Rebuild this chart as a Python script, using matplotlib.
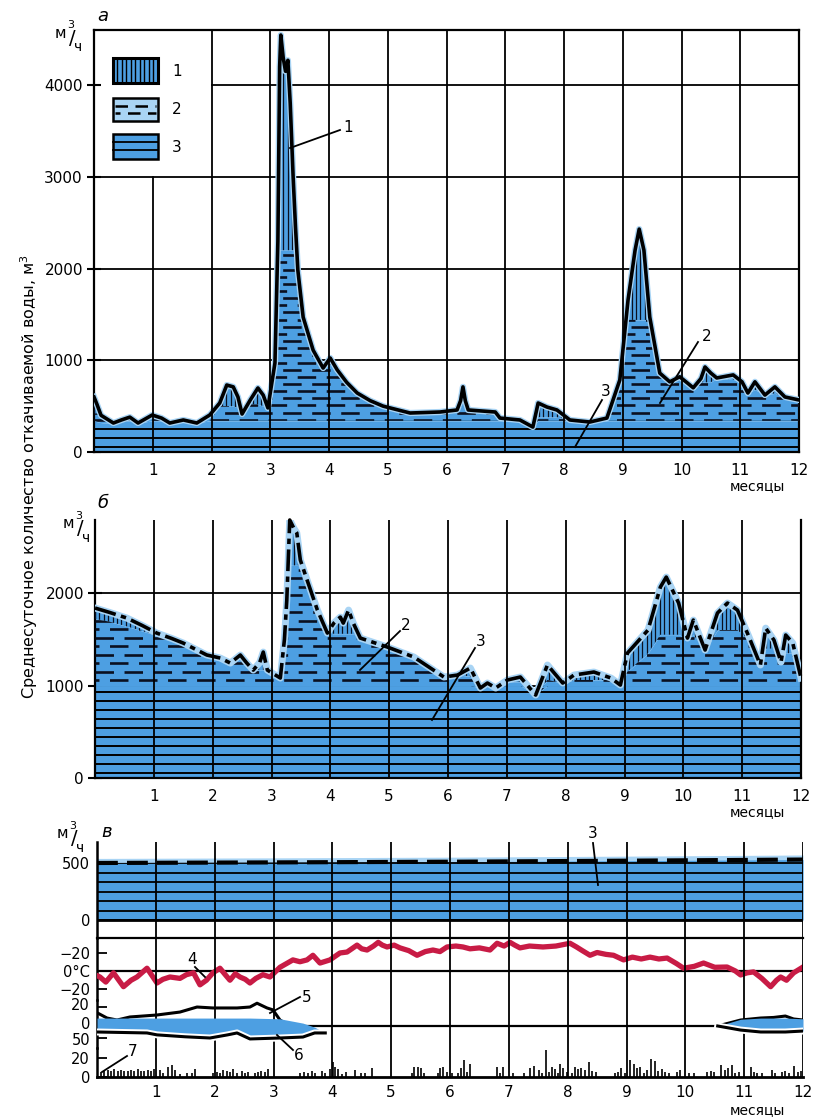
import numpy as np
import matplotlib.pyplot as plt
from matplotlib.lines import Line2D
from matplotlib.patches import Rectangle
from matplotlib.transforms import ScaledTranslation

plt.rcParams['font.family'] = ['DejaVu Sans']

# ---------------- data: panel a (m3/h), months 0..12 ----------------
months_a = [0.00, 0.05, 0.12, 0.33, 0.47, 0.61, 0.75, 0.99, 1.15, 1.29, 1.52, 1.75, 1.97,
            2.14, 2.26, 2.37, 2.45, 2.52, 2.66, 2.79, 2.88, 2.96, 3.08, 3.13, 3.16, 3.18,
            3.22, 3.26, 3.30, 3.34, 3.39, 3.43, 3.47, 3.56, 3.73, 3.90, 4.02, 4.14, 4.30,
            4.48, 4.70, 4.92, 5.38, 5.89, 6.18, 6.24, 6.28, 6.32, 6.37, 6.83, 6.91, 7.25,
            7.47, 7.56, 7.71, 7.88, 8.10, 8.44, 8.73, 8.95, 9.09, 9.21, 9.28, 9.36, 9.46,
            9.63, 9.80, 9.97, 10.20, 10.33, 10.40, 10.50, 10.60, 10.88, 11.03, 11.13, 11.25,
            11.42, 11.59, 11.76, 12.00]
total_a = [600, 520, 400, 316, 350, 380, 316, 403, 370, 316, 349, 316, 403,
           534, 730, 710, 600, 414, 567, 698, 620, 480, 970, 2300, 4200, 4545,
           4300, 4150, 4270, 3800, 2990, 2450, 1980, 1470, 1110, 915, 1025, 895, 760,
           643, 560, 500, 425, 436, 458, 560, 710, 560, 458, 436, 370, 349,
           272, 534, 490, 458, 349, 327, 370, 785, 1657, 2200, 2430, 2200, 1470,
           860, 765, 820, 700, 800, 927, 860, 807, 840, 765, 643, 765,
           621, 710, 600, 567]
tier2_a = [420, 420, 400, 316, 350, 380, 316, 403, 370, 316, 349, 316, 403,
           500, 500, 500, 480, 414, 520, 520, 500, 480, 970, 2000, 2200, 2200,
           2200, 2200, 2200, 2200, 2200, 2200, 1980, 1470, 1110, 915, 1025, 895, 760,
           643, 560, 500, 425, 436, 458, 560, 710, 560, 458, 436, 370, 349,
           272, 380, 380, 380, 349, 327, 370, 785, 1440, 1440, 1440, 1440, 1440,
           860, 765, 820, 700, 760, 760, 760, 807, 790, 765, 643, 680,
           621, 640, 600, 567]
base_a = [340, 330, 320, 310, 330, 340, 316, 340, 340, 316, 340, 316, 340,
          340, 340, 340, 340, 340, 340, 340, 340, 340, 340, 340, 340, 340,
          340, 340, 340, 340, 340, 340, 340, 340, 340, 340, 340, 340, 340,
          340, 340, 340, 340, 340, 340, 340, 340, 340, 340, 340, 340, 340,
          272, 340, 340, 340, 340, 327, 340, 340, 340, 340, 340, 340, 340,
          340, 340, 340, 340, 340, 340, 340, 340, 340, 340, 340, 340,
          340, 340, 340, 340]

# ---------------- data: panel b ----------------
months_b = [0.00, 0.25, 0.54, 0.80, 1.05, 1.30, 1.50, 1.90, 2.13, 2.30, 2.47, 2.58, 2.69,
            2.80, 2.86, 2.93, 3.15, 3.22, 3.26, 3.31, 3.38, 3.43, 3.49, 3.60, 3.78, 3.95,
            4.06, 4.17, 4.22, 4.31, 4.39, 4.51, 4.97, 5.42, 5.93, 6.16, 6.38, 6.55, 6.67,
            6.81, 7.01, 7.23, 7.49, 7.69, 7.95, 8.14, 8.48, 8.77, 8.93, 9.05, 9.40, 9.61,
            9.71, 9.92, 10.07, 10.17, 10.37, 10.58, 10.75, 10.92, 11.10, 11.31, 11.40,
            11.54, 11.66, 11.74, 11.86, 12.00]
total_b = [1838, 1790, 1730, 1650, 1567, 1510, 1459, 1330, 1297, 1243, 1330, 1243, 1167,
           1250, 1362, 1167, 1081, 1500, 1924, 2790, 2700, 2650, 2357, 2150, 1816, 1567,
           1675, 1740, 1675, 1816, 1675, 1513, 1416, 1308, 1092, 1113, 1189, 973, 1027,
           973, 1060, 1092, 897, 1222, 1027, 1113, 1146, 1081, 1005, 1351, 1600, 2065,
           2173, 1892, 1513, 1708, 1384, 1784, 1892, 1816, 1550, 1222, 1621,
           1492, 1254, 1546, 1459, 1081]
tier2_b = [1720, 1690, 1640, 1590, 1540, 1510, 1459, 1330, 1297, 1243, 1260, 1243, 1167,
           1170, 1170, 1167, 1081, 1500, 1924, 2300, 2300, 2300, 2300, 2150, 1816, 1567,
           1560, 1560, 1560, 1560, 1560, 1513, 1416, 1308, 1092, 1113, 1100, 973, 1027,
           973, 1040, 1040, 897, 1060, 1027, 1060, 1060, 1060, 1005, 1150, 1350, 1550,
           1550, 1550, 1513, 1550, 1384, 1600, 1600, 1600, 1500, 1222, 1400,
           1400, 1254, 1350, 1350, 1081]
base_b = [1000] * 37 + [973, 1000, 973, 1000, 1000, 897] + [1000] * 25

# ---------------- data: panel c ----------------
months_w = [0, 3, 6, 9, 12]
water_c = [500, 505, 511, 520, 530]

months_t = [0.00, 0.05, 0.15, 0.28, 0.45, 0.58, 0.68, 0.85, 1.02, 1.12, 1.24, 1.41, 1.52,
            1.64, 1.75, 1.86, 1.97, 2.09, 2.18, 2.26, 2.35, 2.43, 2.52, 2.60, 2.70, 2.82,
            2.94, 3.11, 3.22, 3.33, 3.45, 3.57, 3.67, 3.79, 3.96, 4.05, 4.13, 4.25, 4.33,
            4.42, 4.50, 4.59, 4.70, 4.78, 4.85, 4.93, 5.05, 5.15, 5.30, 5.44, 5.58, 5.71,
            5.83, 5.95, 6.10, 6.22, 6.34, 6.50, 6.68, 6.80, 6.92, 7.02, 7.10, 7.19, 7.35,
            7.58, 7.80, 8.04, 8.15, 8.25, 8.38, 8.50, 8.65, 8.78, 8.95, 9.10, 9.25, 9.40,
            9.55, 9.69, 9.85, 9.97, 10.15, 10.31, 10.50, 10.71, 10.85, 10.94, 11.05, 11.16,
            11.30, 11.45, 11.55, 11.62, 11.72, 11.84, 12.00]
temp_c = [-5, -6.5, -12, -2, -17, -10, -6.5, 3, -13, -9, -6.5, -8, -4,
          -2, -15, -10, -2, 3, -4, -10, -3, -6.5, -9, -13, -8, -4,
          -6.5, 4, 8, 12, 10, 12, 17, 8.6, 12, 16, 19.5, 20.5, 24,
          28, 24, 22.7, 27, 31, 28, 26, 28, 25, 22, 17, 21, 22.7,
          21, 26, 27, 26, 24, 25, 22.7, 30, 27, 31, 28, 25, 27,
          26, 27, 30, 26, 22, 17, 20, 18, 17, 12, 15, 13, 15,
          13, 14, 8, 3, 5, 8.6, 4, 4.3, 0, -4.3, -2, -1,
          -8, -17, -10, -6.5, -10, -2, 4.3]

months_snow1 = [0.00, 0.17, 0.34, 0.56, 1.02, 1.41, 1.70, 1.97, 2.38, 2.60, 2.72, 2.89,
                2.99, 3.11, 3.28, 3.57, 3.88]
snow1 = [14, 8.4, 6.3, 9.5, 11.6, 14.7, 20, 19, 19, 20, 24, 19, 17, 6.3, 0, -4, -7]
months_snow2 = [10.55, 10.94, 11.28, 11.50, 11.70, 11.84, 12.00]
snow2 = [0, 6.3, 8.4, 9, 10.5, 7.4, 6.3]

months_ice1 = [0.00, 0.85, 1.02, 1.50, 1.92, 2.22, 2.38, 2.60, 3.11, 3.50, 3.70, 3.88]
ice1 = [25, 29, 37, 45, 50, 37, 29, 54, 50, 46, 29, 29]
ice1_top = [-33, -33, -33, -33, -33, -33, -33, -33, -30, -12, 5, 29]
months_ice2 = [10.55, 10.94, 11.28, 11.70, 12.00]
ice2 = [0, 17, 25, 25, 21]
ice2_top = [0, -28, -33, -33, -30]

months_p = [0.07, 0.12, 0.18, 0.24, 0.29, 0.35, 0.41, 0.46, 0.52, 0.58, 0.63, 0.69, 0.75,
            0.80, 0.86, 0.92, 0.97, 1.07, 1.13, 1.20, 1.28, 1.33, 1.41, 1.53, 1.61, 1.67,
            1.98, 2.04, 2.09, 2.15, 2.21, 2.26, 2.32, 2.38, 2.46, 2.52, 2.57, 2.68, 2.73,
            2.79, 2.85, 2.90, 3.45, 3.51, 3.59, 3.65, 3.71, 3.82, 3.88, 3.96, 4.01, 4.05,
            4.09, 4.16, 4.23, 4.39, 4.48, 4.56, 4.67, 5.35, 5.39, 5.45, 5.50, 5.56, 5.79,
            5.83, 5.88, 5.95, 6.03, 6.13, 6.18, 6.24, 6.29, 6.34, 6.80, 6.85, 6.90, 7.07,
            7.25, 7.36, 7.42, 7.51, 7.56, 7.64, 7.68, 7.73, 7.79, 7.84, 7.87, 7.92, 7.99,
            8.07, 8.12, 8.17, 8.23, 8.29, 8.36, 8.42, 8.48, 8.81, 8.86, 8.91, 8.97, 9.06,
            9.12, 9.18, 9.23, 9.29, 9.35, 9.42, 9.48, 9.54, 9.60, 9.66, 9.73, 9.86, 9.91,
            10.07, 10.14, 10.37, 10.43, 10.48, 10.61, 10.67, 10.73, 10.79, 10.85, 10.91,
            11.11, 11.16, 11.22, 11.30, 11.47, 11.53, 11.64, 11.70, 11.77, 11.84, 11.92, 11.97]
precip_p = [5, 6, 7, 6, 8, 6, 7, 6, 6, 7, 6, 8, 6,
            6, 7, 6, 8, 7, 4, 10, 13, 7, 3, 4, 4, 8,
            4, 5, 4, 7, 6, 5, 8, 4, 6, 4, 5, 4, 5,
            6, 5, 8, 4, 5, 4, 6, 4, 6, 4, 8, 16, 10,
            8, 3, 5, 7, 4, 4, 9, 4, 10, 11, 9, 4, 4,
            9, 11, 5, 4, 4, 9, 18, 5, 14, 10, 4, 11, 4,
            4, 9, 12, 7, 4, 28, 5, 10, 8, 4, 14, 9, 5,
            4, 10, 8, 9, 7, 16, 6, 5, 4, 5, 9, 4, 18,
            14, 9, 10, 4, 7, 19, 17, 6, 8, 5, 4, 5, 7,
            4, 4, 5, 6, 5, 13, 7, 9, 13, 4, 5,
            10, 5, 4, 4, 7, 4, 5, 6, 4, 12, 5, 6]

month_labels = [str(m) for m in range(1, 13)]

# ---------------- style ----------------
W, H = 814, 1120
BLUE = '#4d9fe2'
LIGHT = '#a9d4f4'
RED = '#c81b45'
FS = 11
FSC = 10.5

fig = plt.figure(figsize=(W / 100, H / 100), dpi=100)


def add_ax(x0, x1, ytop, ybot):
    a = fig.add_axes([x0 / W, 1 - ybot / H, (x1 - x0) / W, (ybot - ytop) / H])
    a.set_xlim(0, 12)
    a.patch.set_visible(False)
    return a


def ftext(px, py, s, **kw):
    kw.setdefault('fontsize', FS)
    return fig.text(px / W, 1 - py / H, s, **kw)


def fline(p0, p1, lw=1.3):
    fig.add_artist(Line2D([p0[0] / W, p1[0] / W], [1 - p0[1] / H, 1 - p1[1] / H],
                          transform=fig.transFigure, color='k', lw=lw))


def shift_labels(a, dy_px):
    off = ScaledTranslation(0, dy_px / 100, fig.dpi_scale_trans)
    for lab in a.get_yticklabels():
        lab.set_transform(lab.get_transform() + off)


def layered(ax, x, total, mid, base, step3, step2, step1):
    top = max(total)
    p3 = ax.fill_between(x, 0, base, color=BLUE, lw=0, zorder=2)
    p2 = ax.fill_between(x, base, mid, color=BLUE, lw=0, zorder=2)
    p1 = ax.fill_between(x, mid, total, color=BLUE, lw=0, zorder=2)
    h3 = ax.hlines(np.arange(step3 * 0.6, top, step3), 0, 12, colors='k', lw=1.4, zorder=3)
    h3.set_clip_path(p3.get_paths()[0], ax.transData)
    rows = np.arange(step2 * 0.5, top, step2)
    for k, off in enumerate([0, 5.5]):
        h2 = ax.hlines(rows[k::2], 0, 12, colors='#0a1020', lw=1.9,
                       linestyles=[(off, (7, 4))], zorder=3)
        h2.set_clip_path(p2.get_paths()[0], ax.transData)
    v1 = ax.vlines(np.arange(0, 12, step1), 0, top, colors='#0a1020', lw=0.9, zorder=3)
    v1.set_clip_path(p1.get_paths()[0], ax.transData)


# ================= panel a =================
ax = add_ax(94, 799, 30, 452)
ax.set_ylim(0, 4600)
layered(ax, months_a, total_a, tier2_a, base_a, 98, 78, 0.075)
ax.plot(months_a, total_a, color=LIGHT, lw=4.5, zorder=4, solid_joinstyle='round')
ax.plot(months_a, total_a, color='k', lw=2.6, zorder=5, solid_joinstyle='round')
for v in [1000, 2000, 3000]:
    ax.axhline(v, color='k', lw=1.3, zorder=1)
ax.plot([2, 12], [4000, 4000], color='k', lw=1.3, zorder=1)
ax.plot([1, 1], [0, 3000], color='k', lw=1.3, zorder=6)
ax.vlines(range(2, 12), 0, 4600, colors='k', lw=1.3, zorder=6)
for s in ax.spines.values():
    s.set_linewidth(1.6)
ax.set_yticks([0, 1000, 2000, 3000, 4000])
ax.set_xticks(range(1, 13))
ax.set_xticklabels(month_labels)
ax.tick_params(axis='x', length=0, pad=8, labelsize=FS)
ax.tick_params(axis='y', direction='inout', length=10, width=1.5, pad=3, labelsize=FS)

# legend of panel a
T = ax.transAxes


def fx(px):
    return (px - 94) / 705


def fy(py):
    return (452 - py) / 422


ax.add_patch(Rectangle((fx(113), fy(83)), fx(158) - fx(113), fy(58) - fy(83), transform=T,
                       facecolor=BLUE, edgecolor='k', lw=2.2, zorder=7))
for px in np.arange(117, 156, 4.5):
    ax.plot([fx(px), fx(px)], [fy(82), fy(59)], transform=T, color='k', lw=1.0, zorder=8)
ax.add_patch(Rectangle((fx(113), fy(121)), fx(158) - fx(113), fy(98) - fy(121), transform=T,
                       facecolor=LIGHT, edgecolor='k', lw=1.8, zorder=7))
ax.plot([fx(115), fx(156)], [fy(106), fy(106)], transform=T, color='k', lw=1.8,
        ls=(0, (5, 3)), zorder=8)
ax.plot([fx(115), fx(156)], [fy(113), fy(113)], transform=T, color='k', lw=1.8,
        ls=(3, (5, 3)), zorder=8)
ax.add_patch(Rectangle((fx(113), fy(159)), fx(158) - fx(113), fy(134) - fy(159), transform=T,
                       facecolor=BLUE, edgecolor='k', lw=1.8, zorder=7))
for py in [142, 150]:
    ax.plot([fx(113), fx(158)], [fy(py), fy(py)], transform=T, color='k', lw=1.3, zorder=8)
for py, s in [(71, '1'), (110, '2'), (147, '3')]:
    ftext(177, py, s, ha='center', va='center')

# ================= panel b =================
bx = add_ax(95, 801, 520, 778)
bx.set_ylim(0, 2790)
layered(bx, months_b, total_b, tier2_b, base_b, 97, 92, 0.075)
bx.plot(months_b, total_b, color=LIGHT, lw=5, zorder=4, solid_joinstyle='round')
bx.plot(months_b, total_b, color='k', lw=2.6, ls=(0, (6, 1.5, 1.5, 1.5)), zorder=5,
        clip_on=False)
for v in [1000, 2000]:
    bx.axhline(v, color='k', lw=1.3, zorder=1)
bx.vlines(range(1, 12), 0, 2790, colors='k', lw=1.3, zorder=6)
bx.spines['top'].set_visible(False)
for s in ['left', 'right', 'bottom']:
    bx.spines[s].set_linewidth(1.6)
bx.set_yticks([0, 1000, 2000])
bx.set_xticks(range(1, 13))
bx.set_xticklabels(month_labels)
bx.tick_params(axis='x', length=0, pad=8, labelsize=FS)
bx.tick_params(axis='y', direction='inout', length=10, width=1.5, pad=3, labelsize=FS)

# ================= panel c =================
cw = add_ax(97, 803, 842, 938)
cw.set_ylim(-158, 684)
ct = add_ax(97, 803, 938, 1000)
ct.set_ylim(-31.4, 35.7)
cs = add_ax(97, 803, 1000, 1048)
cs.set_ylim(-23.2, 27.4)
ci = add_ax(97, 803, 1000, 1048)
ci.set_ylim(91.7, -108.3)
cp = add_ax(97, 803, 1048, 1077)
cp.set_ylim(0, 30.5)

for a in [cw, ct, cs, ci, cp]:
    for s in a.spines.values():
        s.set_visible(False)
    a.set_xticks([])
    a.tick_params(axis='y', direction='in', length=7, width=1.3, pad=5, labelsize=FSC)
for a in [cw, ct, cs, cp]:
    a.spines['left'].set_visible(True)
    a.spines['left'].set_linewidth(1.8)
    a.vlines(range(1, 13), *a.get_ylim(), colors='k', lw=1.3, zorder=6)

# water
cw.fill_between(months_w, 0, np.array(water_c) + 40, color=LIGHT, lw=0, zorder=2)
pw = cw.fill_between(months_w, 0, water_c, color=BLUE, lw=0, zorder=2)
hw = cw.hlines(np.arange(0, 500, 83), 0, 12, colors='k', lw=1.3, zorder=3)
hw.set_clip_path(pw.get_paths()[0], cw.transData)
cw.plot(months_w, water_c, color='k', lw=3, ls=(0, (5, 2.2)), zorder=4)
cw.axhline(0, color='k', lw=2, zorder=5)
cw.spines['bottom'].set_visible(True)
cw.spines['bottom'].set_linewidth(1.6)
cw.set_yticks([0, 500])

# temperature
ct.axhline(0, color='k', lw=1.6, zorder=3)
ct.plot(months_t, temp_c, color=RED, lw=3.8, zorder=4, solid_joinstyle='round')
ct.set_yticks([20, 0, -20])
ct.set_yticklabels(['−20', '0°C', '−20'])

# snow and ice
ci.fill_between(months_ice1, ice1_top, ice1, color=BLUE, lw=0, zorder=2)
ci.fill_between(months_ice2, ice2_top, ice2, color=BLUE, lw=0, zorder=2)
for mx, dv in [(months_ice1, ice1), (months_ice2, ice2)]:
    ci.plot(mx, dv, color='white', lw=5, zorder=3)
    ci.plot(mx, dv, color='k', lw=2.2, zorder=4)
cs.axhline(0, color='k', lw=1.6, zorder=3)
cs.plot(months_snow1, snow1, color='k', lw=2.2, zorder=4)
cs.plot(months_snow2, snow2, color='k', lw=2.2, zorder=4)
cs.set_yticks([20, 0])
ci.set_yticks([50])
ci.spines['left'].set_visible(False)
shift_labels(cs, 3)
shift_labels(ci, -1)

# precipitation
cp.vlines(months_p, 0, precip_p, colors='k', lw=1.2, zorder=4)
cp.spines['bottom'].set_visible(True)
cp.spines['bottom'].set_linewidth(2)
cp.set_yticks([0, 20])
cp.set_xticks(range(1, 13))
cp.set_xticklabels(month_labels)
cp.tick_params(axis='x', length=0, pad=6, labelsize=FS)

# ================= texts =================
for py in [486, 812, 1110]:
    ftext(757, py, 'месяцы', ha='center', va='center', fontsize=10)

for px, py, s in [(103, 16, 'а'), (103, 503, 'б'), (107, 832, 'в')]:
    ftext(px, py, s, ha='center', va='center', style='italic', fontsize=13)

for px, py in [(60, 25), (68, 516), (62, 826)]:
    ftext(px, py + 8, 'м', ha='center', va='center', fontsize=11)
    ftext(px + 11, py, '3', ha='center', va='center', fontsize=8)
    ftext(px + 12, py + 13, '/', ha='center', va='center', fontsize=14)
    ftext(px + 18, py + 22, 'ч', ha='center', va='center', fontsize=10)

ftext(29, 477, 'Среднесуточное количество откачиваемой воды, м$^3$', rotation=90,
      ha='center', va='center', fontsize=11.5)

# leaders and numbers
for p0, p1, s, pt in [((290, 148), (340, 130), '1', (348, 128)),
                      ((660, 403), (698, 342), '2', (707, 337)),
                      ((575, 447), (602, 400), '3', (606, 392)),
                      ((360, 670), (400, 631), '2', (406, 625)),
                      ((432, 720), (475, 648), '3', (481, 642)),
                      ((598, 885), (593, 843), '3', (593, 834)),
                      ((205, 977), (195, 967), '4', (192, 960)),
                      ((270, 1013), (300, 997), '5', (307, 998)),
                      ((277, 1035), (293, 1050), '6', (299, 1056)),
                      ((102, 1072), (127, 1056), '7', (133, 1052))]:
    fline(p0, p1)
    ftext(pt[0], pt[1], s, ha='center', va='center')

fig.savefig('out.png', dpi=100)
